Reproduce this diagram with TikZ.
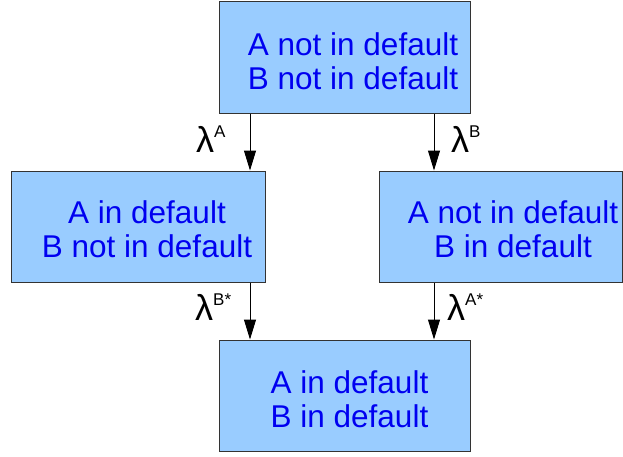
\documentclass[tikz,border=0pt]{standalone}
\usepackage{fontspec}
\setmainfont{Liberation Sans}
\usetikzlibrary{arrows.meta}
\definecolor{boxfill}{HTML}{99CCFF}
\definecolor{boxline}{HTML}{333333}
\definecolor{txtblue}{HTML}{0000F0}
\begin{document}
\begin{tikzpicture}[x=1pt,y=-1pt,
  statebox/.style={draw=boxline,fill=boxfill,line width=1pt,rectangle,anchor=north west,inner sep=0pt},
  statetext/.style={text=txtblue,align=center,inner sep=0pt,font=\fontsize{31.5}{34}\selectfont},
  rate/.style={anchor=base west,inner sep=0pt,font=\fontsize{36}{36}\selectfont},
  arr/.style={draw=black,line width=1pt,-{Triangle[length=20pt,width=12pt]}}]
\useasboundingbox (0,0) rectangle (623,456);
\node[statebox,minimum width=251pt,minimum height=112pt] (top) at (218.5,0.5) {};
\node[statebox,minimum width=254pt,minimum height=111pt] (left) at (10.5,170.5) {};
\node[statebox,minimum width=243pt,minimum height=111pt] (right) at (378.5,170.5) {};
\node[statebox,minimum width=251pt,minimum height=111pt] (bottom) at (218.5,339.5) {};
\node[statetext] (ttop) at (353,61) {A not in default\\B not in default};
\node[statetext] (tleft) at (147,229.5) {A in default\\B not in default};
\node[statetext] (tright) at (513,229.5) {A not in default\\B in default};
\node[statetext] (tbottom) at (349.5,399) {A in default\\B in default};
\draw[arr] ([xshift=31.5pt]top.south west) -- ([xshift=31.5pt]top.south west |- left.north);
\draw[arr] ([xshift=-36.5pt]top.south east) -- ([xshift=-36.5pt]top.south east |- right.north);
\draw[arr] ([xshift=31.5pt]bottom.north west |- left.south) -- ([xshift=31.5pt]bottom.north west);
\draw[arr] ([xshift=-36.5pt]bottom.north east |- right.south) -- ([xshift=-36.5pt]bottom.north east);
\node[rate] (la) at (196,152) {λ\raisebox{15pt}{\fontsize{17}{17}\selectfont A}};
\node[rate] (lb) at (451,152) {λ\raisebox{15pt}{\fontsize{17}{17}\selectfont B}};
\node[rate] (lbs) at (195,320) {λ\raisebox{15pt}{\fontsize{17}{17}\selectfont B*}};
\node[rate] (las) at (447,320) {λ\raisebox{15pt}{\fontsize{17}{17}\selectfont A*}};
\end{tikzpicture}
\end{document}
